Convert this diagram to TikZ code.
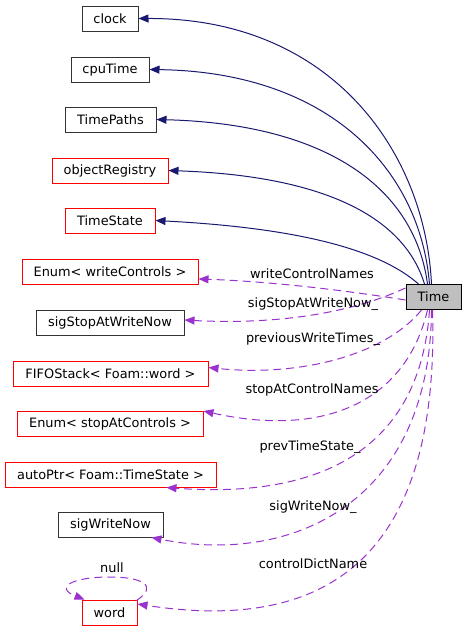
\documentclass[tikz,border=0pt]{standalone}
\usepackage{fontspec}
\setmainfont{DejaVu Sans}
\usetikzlibrary{arrows.meta}
\definecolor{navyc}{HTML}{191970}
\definecolor{orch}{HTML}{9A32CD}
\definecolor{redb}{HTML}{FF0000}
\begin{document}
\begin{tikzpicture}[x=1pt,y=-1pt,
  box/.style={draw, minimum height=25pt, inner sep=0pt, line width=1pt,
    font=\fontsize{12.9}{15}\selectfont},
  blk/.style={box, draw=black!80},
  rbox/.style={box, draw=redb},
  lbl/.style={font=\fontsize{12.9}{15}\selectfont, inner sep=0pt},
  inh/.style={draw=navyc, line width=1pt, -{Triangle[length=10pt,width=8pt]}},
  use/.style={draw=orch, line width=1pt, dash pattern=on 8pt off 5pt,
    -{Triangle[length=10pt,width=8pt]}}]
\useasboundingbox (0,0) rectangle (467,633);
% nodes
\node[blk, minimum width=56pt]  (clock) at (110,18.5) {clock};
\node[blk, minimum width=78pt]  (cpu) at (110,69.5) {cpuTime};
\node[blk, minimum width=91pt]  (paths) at (110.5,119.5) {TimePaths};
\node[rbox, minimum width=116pt] (objreg) at (110,170.5) {objectRegistry};
\node[rbox, minimum width=90pt] (tstate) at (110,220.5) {TimeState};
\node[rbox, minimum width=176pt] (enumw) at (110,271.5) {Enum< writeControls >};
\node[blk, minimum width=148pt] (sigstop) at (110,322.5) {sigStopAtWriteNow};
\node[rbox, minimum width=195pt] (fifo) at (110.5,373.5) {FIFOStack< Foam::word >};
\node[rbox, minimum width=186pt] (enums) at (110,423.5) {Enum< stopAtControls >};
\node[rbox, minimum width=211pt] (auto) at (110.5,474.5) {autoPtr< Foam::TimeState >};
\node[blk, minimum width=105pt] (sigw) at (110.5,524.5) {sigWriteNow};
\node[rbox, minimum width=55pt] (word) at (109.5,612.5) {word};
\node[box, draw=black, fill=black!25, minimum width=55pt] (time) at (433.5,297) {Time};
% inheritance edges
\draw[inh] ([xshift=-2pt]time.north) .. controls (425,150) and (330,18) .. (clock.east);
\draw[inh] ([xshift=-4pt]time.north) .. controls (420,170) and (330,72) .. (cpu.east);
\draw[inh] ([xshift=-6pt]time.north) .. controls (415,190) and (330,124) .. (paths.east);
\draw[inh] ([xshift=-9pt]time.north) .. controls (405,220) and (330,176) .. (objreg.east);
\draw[inh] ([xshift=-15pt]time.north) .. controls (380,250) and (300,228) .. (tstate.east);
% usage edges
\draw[use] ([yshift=-3pt]time.west) .. controls (330,288) and (260,281) .. ([yshift=-7.5pt]enumw.east);
\draw[use] ([yshift=9pt]time.west) .. controls (340,318) and (260,324) .. ([yshift=2.5pt]sigstop.east);
\draw[use] ([xshift=-12pt]time.south) .. controls (385,355) and (300,377) .. ([yshift=6pt]fifo.east);
\draw[use] ([xshift=-6pt]time.south) .. controls (405,405) and (320,437) .. ([yshift=12.5pt]enums.east);
\draw[use] ([xshift=-4pt]time.south) .. controls (420,450) and (320,499) .. ([xshift=56pt]auto.south);
\draw[use] ([xshift=-2pt]time.south) .. controls (430,505) and (290,565) .. ([xshift=41pt]sigw.south);
\draw[use] ([xshift=-1pt]time.south) .. controls (440,565) and (320,632) .. ([yshift=8.5pt]word.east);
% self loop
\draw[use] ([xshift=-1pt,yshift=-1pt]word.north east) .. controls (160,585) and (140,577) .. (110,577) .. controls (70,577) and (55,588) .. ([xshift=-25pt]word.north);
% labels
\node[lbl] (l1) at (312,274) {writeControlNames};
\node[lbl] (l2) at (313,304) {sigStopAtWriteNow\_};
\node[lbl] (l3) at (313,339) {previousWriteTimes\_};
\node[lbl] (l4) at (312,390) {stopAtControlNames};
\node[lbl] (l5) at (310,447) {prevTimeState\_};
\node[lbl] (l6) at (313,507) {sigWriteNow\_};
\node[lbl] (l7) at (313,564) {controlDictName};
\node[lbl] (l8) at (112,568) {null};
\end{tikzpicture}
\end{document}
